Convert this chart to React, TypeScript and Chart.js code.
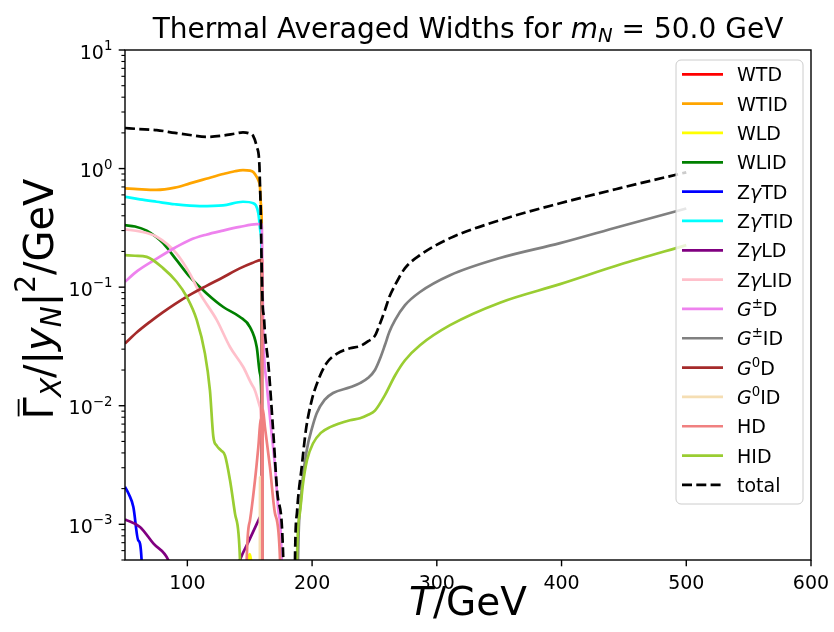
import React, { useEffect, useRef } from "react";
import { Chart, registerables } from "chart.js";

Chart.register(...registerables);

const FONT = '"DejaVu Sans", "Liberation Sans", sans-serif';

// ---------------- data (T in GeV, widths in GeV) ----------------
const wtdT = [159.7, 159.9, 160.05];
const wtdV = [1e-5, 8e-3, 1e-5];

const wtidT = [50, 60, 75, 90, 102, 115, 128.6, 138, 144.6, 150.2, 153, 155.6, 157, 158.2, 159.0, 159.6, 160.1];
const wtidV = [0.68, 0.67, 0.66, 0.69, 0.75, 0.82, 0.9, 0.95, 0.97, 0.96, 0.93, 0.85, 0.79, 0.7, 0.5, 0.347, 1e-6];

const wldT = [146, 150, 153];
const wldV = [3e-4, 5.6e-4, 3e-4];

const wlidT = [50, 58, 67.4, 75, 80.7, 91.4, 102, 115.5, 128.8, 142.2, 150.2, 155.6, 158.2, 159.6, 160.3];
const wlidV = [0.333, 0.325, 0.3, 0.265, 0.234, 0.169, 0.122, 0.0885, 0.068, 0.056, 0.046, 0.0313, 0.0187, 0.0086, 1e-6];

const zgtdT = [50, 53, 56.7, 60.7, 63.3, 64];
const zgtdV = [2.07e-3, 1.8e-3, 1.4e-3, 7.3e-4, 5e-4, 1e-5];

const zgtidT = [50, 62, 75.4, 90, 110, 128.6, 144.6, 152.9, 156.9, 158.8, 159.6, 160.4];
const zgtidV = [0.578, 0.55, 0.525, 0.5, 0.483, 0.49, 0.525, 0.51, 0.42, 0.286, 0.18, 1e-6];

const zgldT = [50, 62, 72.7, 84.7, 100, 130, 141, 150, 158.2];
const zgldV = [1.1e-3, 9.5e-4, 6.9e-4, 5e-4, 1.5e-4, 1.5e-4, 4.6e-4, 7.5e-4, 1.15e-3];

const zglidT = [50, 62, 75.4, 91.4, 102, 110, 123.5, 134.2, 144.8, 152.9, 158.2, 159.5, 160.2];
const zglidV = [0.307, 0.295, 0.266, 0.192, 0.13, 0.0885, 0.053, 0.0313, 0.0212, 0.0144, 0.0098, 0.004, 1e-6];

const gpdT = [50, 60, 75.4, 90, 102, 115, 128.6, 142, 155.6, 159.6, 160.3, 160.9, 163.6, 166.5, 170.3, 173, 175.6, 177];
const gpdV = [0.111, 0.137, 0.174, 0.215, 0.25, 0.277, 0.3, 0.322, 0.34, 0.34, 0.1, 0.04, 0.0155, 7.5e-3, 3.05e-3, 1.3e-3, 5e-4, 1e-5];

const gpidT = [187, 188.7, 191, 195.7, 200, 203.7, 210, 216.8, 230.4, 238.4, 245, 250.4, 254.5, 258.4, 262, 266.5, 274.5, 286.5, 310.6, 350.6, 398.8, 446.9, 500];
const gpidV = [1e-5, 5e-4, 1.6e-3, 4.2e-3, 6.5e-3, 8.65e-3, 0.0112, 0.0128, 0.0143, 0.0155, 0.0172, 0.02, 0.025, 0.0325, 0.042, 0.0527, 0.0705, 0.091, 0.126, 0.176, 0.235, 0.325, 0.46];

const g0dT = [50, 60, 70, 80, 90, 102, 115, 128, 142, 152, 159.6, 160.1];
const g0dV = [0.0335, 0.042, 0.051, 0.061, 0.072, 0.086, 0.102, 0.12, 0.144, 0.16, 0.17, 1e-6];

const g0idT = [157.9, 158.3, 158.6];
const g0idV = [1e-5, 2.5e-3, 1e-5];

const hdT = [146, 147.6, 150.2, 154.2, 156.9, 158.8, 159.8, 160.0, 160.15, 160.4, 162.2, 166.2, 170.3, 174.3, 176];
const hdV = [1e-5, 5e-4, 1.08e-3, 2.35e-3, 4.5e-3, 7.6e-3, 9.8e-3, 0.17, 1e-6, 9.5e-3, 6.6e-3, 3.05e-3, 1.23e-3, 5e-4, 1e-5];

const hidT = [50, 58, 67.4, 80.7, 91.4, 99.5, 107.5, 114.1, 118.1, 120.8, 123.5, 127, 130.2, 134.2, 138.2, 142.2, 145, 165,
  187, 187.9, 190, 192.7, 196, 200.7, 207, 214.4, 230.4, 238.4, 245, 250.4, 258.4, 266.5, 274.5, 286.5, 310.6, 350.6, 398.8, 446.9, 500];
const hidV = [0.186, 0.184, 0.18, 0.144, 0.111, 0.083, 0.053, 0.0275, 0.0135, 5.5e-3, 4.6e-3, 4.2e-3, 3.8e-3, 2.35e-3, 1.23e-3, 5e-4, 1e-5, null,
  1e-5, 5e-4, 1.2e-3, 2.2e-3, 3.5e-3, 4.8e-3, 5.9e-3, 6.6e-3, 7.55e-3, 7.85e-3, 8.4e-3, 9.1e-3, 0.0123, 0.018, 0.0242, 0.0324, 0.0478, 0.074, 0.106, 0.155, 0.226];

const totalT = [50, 60, 75.4, 90, 102, 115.5, 128.6, 138, 144.6, 150.2, 152.6, 155.6, 157.7, 158.2, 158.8, 159.6, 160.4, 161.4, 162.2, 165, 168.9, 172.5, 176.9, 178.5, 182,
  185, 186.3, 188, 191.7, 195, 199.7, 205, 211.7, 220, 230.4, 238.4, 245, 250.4, 254, 258.4, 262, 266.5, 274.5, 286.5, 310.6, 350.6, 398.8, 446.9, 500];
const totalV = [2.2, 2.16, 2.11, 2.0, 1.92, 1.85, 1.9, 1.97, 2.02, 1.97, 1.9, 1.53, 1.1, 0.75, 0.447, 0.148, 0.07, 0.056, 0.041, 0.022, 5.9e-3, 1.7e-3, 5e-4, 1e-5, null,
  1e-5, 5e-4, 1.3e-3, 3.05e-3, 6.2e-3, 0.0111, 0.0165, 0.0229, 0.0275, 0.0305, 0.0318, 0.035, 0.039, 0.048, 0.064, 0.083, 0.104, 0.1445, 0.186, 0.259, 0.367, 0.51, 0.684, 0.93];

// axis ticks
const xTicks = [100, 200, 300, 400, 500, 600];
const yMajorTicks = [1e-3, 1e-2, 1e-1, 1, 10];
const yTickExponents = ["\u22123", "\u22122", "\u22121", "0", "1"];
const xMin = 50, xMax = 600, yMin = 5e-4, yMax = 10;

type Run = { t: string; it?: boolean; s?: number; dy?: number };

const legendLabels: Run[][] = [
  [{ t: "WTD" }],
  [{ t: "WTID" }],
  [{ t: "WLD" }],
  [{ t: "WLID" }],
  [{ t: "Z" }, { t: "\u03b3", it: true }, { t: "TD" }],
  [{ t: "Z" }, { t: "\u03b3", it: true }, { t: "TID" }],
  [{ t: "Z" }, { t: "\u03b3", it: true }, { t: "LD" }],
  [{ t: "Z" }, { t: "\u03b3", it: true }, { t: "LID" }],
  [{ t: "G", it: true }, { t: "\u00b1", s: 0.7, dy: -0.42 }, { t: "D" }],
  [{ t: "G", it: true }, { t: "\u00b1", s: 0.7, dy: -0.42 }, { t: "ID" }],
  [{ t: "G", it: true }, { t: "0", s: 0.7, dy: -0.42 }, { t: "D" }],
  [{ t: "G", it: true }, { t: "0", s: 0.7, dy: -0.42 }, { t: "ID" }],
  [{ t: "HD" }],
  [{ t: "HID" }],
  [{ t: "total" }],
];

const seriesColors = ["#ff0000", "#ffa500", "#ffff00", "#008000", "#0000ff", "#00ffff", "#800080", "#ffc0cb",
  "#ee82ee", "#808080", "#a52a2a", "#f5deb3", "#f08080", "#9acd32", "#000000"];
const seriesT = [wtdT, wtidT, wldT, wlidT, zgtdT, zgtidT, zgldT, zglidT, gpdT, gpidT, g0dT, g0idT, hdT, hidT, totalT];
const seriesV = [wtdV, wtidV, wldV, wlidV, zgtdV, zgtidV, zgldV, zglidV, gpdV, gpidV, g0dV, g0idV, hdV, hidV, totalV];

const LW = 2.7;
const DASH = [10, 4.3];

function fontOf(size: number, it?: boolean) {
  return `${it ? "italic " : ""}${size}px ${FONT}`;
}
function measureRuns(ctx: CanvasRenderingContext2D, runs: Run[], size: number) {
  let w = 0;
  for (const r of runs) {
    ctx.font = fontOf(size * (r.s ?? 1), r.it);
    w += ctx.measureText(r.t).width;
  }
  return w;
}
function drawRuns(ctx: CanvasRenderingContext2D, runs: Run[], x: number, y: number, size: number, align: "left" | "center" | "right") {
  const w = measureRuns(ctx, runs, size);
  let cx = align === "left" ? x : align === "center" ? x - w / 2 : x - w;
  ctx.textAlign = "left";
  ctx.textBaseline = "alphabetic";
  const pos: [number, number][] = [];
  for (const r of runs) {
    ctx.font = fontOf(size * (r.s ?? 1), r.it);
    ctx.fillText(r.t, cx, y + (r.dy ?? 0) * size);
    const rw = ctx.measureText(r.t).width;
    pos.push([cx, rw]);
    cx += rw;
  }
  return pos;
}

const decor = {
  id: "decor",
  beforeDraw(chart: any) {
    const ctx = chart.ctx as CanvasRenderingContext2D;
    ctx.save();
    ctx.fillStyle = "#ffffff";
    ctx.fillRect(0, 0, chart.width, chart.height);
    ctx.restore();
  },
  afterDraw(chart: any) {
    const ctx = chart.ctx as CanvasRenderingContext2D;
    const { left, right, top, bottom } = chart.chartArea;
    const xs = chart.scales.x;
    const ys = chart.scales.y;
    ctx.save();
    ctx.fillStyle = "#000";
    ctx.strokeStyle = "#000";

    // x ticks + labels
    ctx.lineWidth = 1.4;
    for (const v of xTicks) {
      const px = xs.getPixelForValue(v);
      ctx.beginPath();
      ctx.moveTo(px, bottom);
      ctx.lineTo(px, bottom + 6.3);
      ctx.stroke();
      drawRuns(ctx, [{ t: String(v) }], px, bottom + 29, 19, "center");
    }
    // y minor ticks
    ctx.lineWidth = 1.1;
    for (let e = -4; e <= 1; e++) {
      for (let m = 2; m <= 9; m++) {
        const v = m * Math.pow(10, e);
        if (v < yMin * 0.999 || v > yMax * 1.001) continue;
        const py = ys.getPixelForValue(v);
        ctx.beginPath();
        ctx.moveTo(left, py);
        ctx.lineTo(left - 3.6, py);
        ctx.stroke();
      }
    }
    // y major ticks + labels
    ctx.lineWidth = 1.4;
    yMajorTicks.forEach((v, i) => {
      const py = ys.getPixelForValue(v);
      ctx.beginPath();
      ctx.moveTo(left, py);
      ctx.lineTo(left - 6.3, py);
      ctx.stroke();
      drawRuns(ctx, [{ t: "10" }, { t: yTickExponents[i], s: 0.7, dy: -0.45 }], left - 12.6, py + 8.5, 19, "right");
    });

    // frame
    ctx.lineWidth = 1.4;
    ctx.strokeRect(left, top, right - left, bottom - top);

    // title
    drawRuns(ctx, [
      { t: "Thermal Averaged Widths for " },
      { t: "m", it: true },
      { t: "N", it: true, s: 0.7, dy: 0.16 },
      { t: " = 50.0 GeV" },
    ], (left + right) / 2, top - 12, 28, "center");

    // x label
    drawRuns(ctx, [{ t: "T", it: true }, { t: "/GeV" }], (left + right) / 2, 615, 39, "center");

    // y label (rotated)
    ctx.save();
    ctx.translate(53, (top + bottom) / 2 - 6);
    ctx.rotate(-Math.PI / 2);
    const ysz = 40;
    const pos = drawRuns(ctx, [
      { t: "\u0393" },
      { t: "X", it: true, s: 0.7, dy: 0.2 },
      { t: "/|" },
      { t: "y", it: true },
      { t: "N", it: true, s: 0.7, dy: 0.2 },
      { t: "|" },
      { t: "2", s: 0.7, dy: -0.45 },
      { t: "/GeV" },
    ], 0, 0, ysz, "center");
    const [gx, gw] = pos[0];
    ctx.lineWidth = 1.8;
    ctx.beginPath();
    ctx.moveTo(gx + 3, -ysz * 0.86);
    ctx.lineTo(gx + gw - 2, -ysz * 0.86);
    ctx.stroke();
    ctx.restore();

    // legend
    const bx = right - 135, by = top + 10, bw = 127, bh = 444, r = 5;
    ctx.beginPath();
    ctx.moveTo(bx + r, by);
    ctx.lineTo(bx + bw - r, by);
    ctx.arcTo(bx + bw, by, bx + bw, by + r, r);
    ctx.lineTo(bx + bw, by + bh - r);
    ctx.arcTo(bx + bw, by + bh, bx + bw - r, by + bh, r);
    ctx.lineTo(bx + r, by + bh);
    ctx.arcTo(bx, by + bh, bx, by + bh - r, r);
    ctx.lineTo(bx, by + r);
    ctx.arcTo(bx, by, bx + r, by, r);
    ctx.closePath();
    ctx.fillStyle = "rgba(255,255,255,0.8)";
    ctx.fill();
    ctx.strokeStyle = "#cccccc";
    ctx.lineWidth = 1;
    ctx.stroke();

    legendLabels.forEach((runs, i) => {
      const cy = by + 14.3 + i * 29.33;
      ctx.strokeStyle = seriesColors[i];
      ctx.lineWidth = LW;
      ctx.setLineDash(i === legendLabels.length - 1 ? DASH : []);
      ctx.beginPath();
      ctx.moveTo(bx + 6, cy);
      ctx.lineTo(bx + 47, cy);
      ctx.stroke();
      ctx.setLineDash([]);
      ctx.fillStyle = "#000";
      drawRuns(ctx, runs, bx + 61, cy + 7, 19, "left");
    });
    ctx.restore();
  },
};

export default function App() {
  const ref = useRef<HTMLCanvasElement>(null);
  useEffect(() => {
    const canvas = ref.current;
    if (!canvas) return;
    const n = seriesT.length;
    const datasets = seriesT.map((T, i) => ({
      label: legendLabels[i].map((r) => r.t).join(""),
      data: T.map((t, j) => ({ x: t, y: seriesV[i][j] })),
      borderColor: seriesColors[i],
      backgroundColor: seriesColors[i],
      borderWidth: LW,
      borderDash: i === n - 1 ? DASH : [],
      pointRadius: 0,
      fill: false,
      cubicInterpolationMode: "monotone" as const,
      spanGaps: false,
      clip: 0,
      order: n - i,
    }));
    const chart = new Chart(canvas, {
      type: "line",
      data: { datasets },
      options: {
        responsive: false,
        animation: false,
        devicePixelRatio: 1,
        events: [],
        layout: { padding: { left: 0, right: 23, top: 50, bottom: 0 } },
        plugins: {
          legend: { display: false },
          tooltip: { enabled: false },
          title: { display: false },
        },
        scales: {
          x: {
            type: "linear",
            min: xMin,
            max: xMax,
            ticks: { display: false },
            grid: { display: false, drawTicks: false },
            border: { display: false },
            afterFit: (s: any) => { s.height = 72; },
          },
          y: {
            type: "logarithmic",
            min: yMin,
            max: yMax,
            ticks: { display: false },
            grid: { display: false, drawTicks: false },
            border: { display: false },
            afterFit: (s: any) => { s.width = 125; },
          },
        },
      } as any,
      plugins: [decor as any],
    });
    return () => chart.destroy();
  }, []);
  return (
    <div style={{ position: "absolute", left: 0, top: 0, width: 834, height: 632, background: "#fff" }}>
      <canvas ref={ref} width={834} height={632} style={{ display: "block", width: 834, height: 632 }} />
    </div>
  );
}
